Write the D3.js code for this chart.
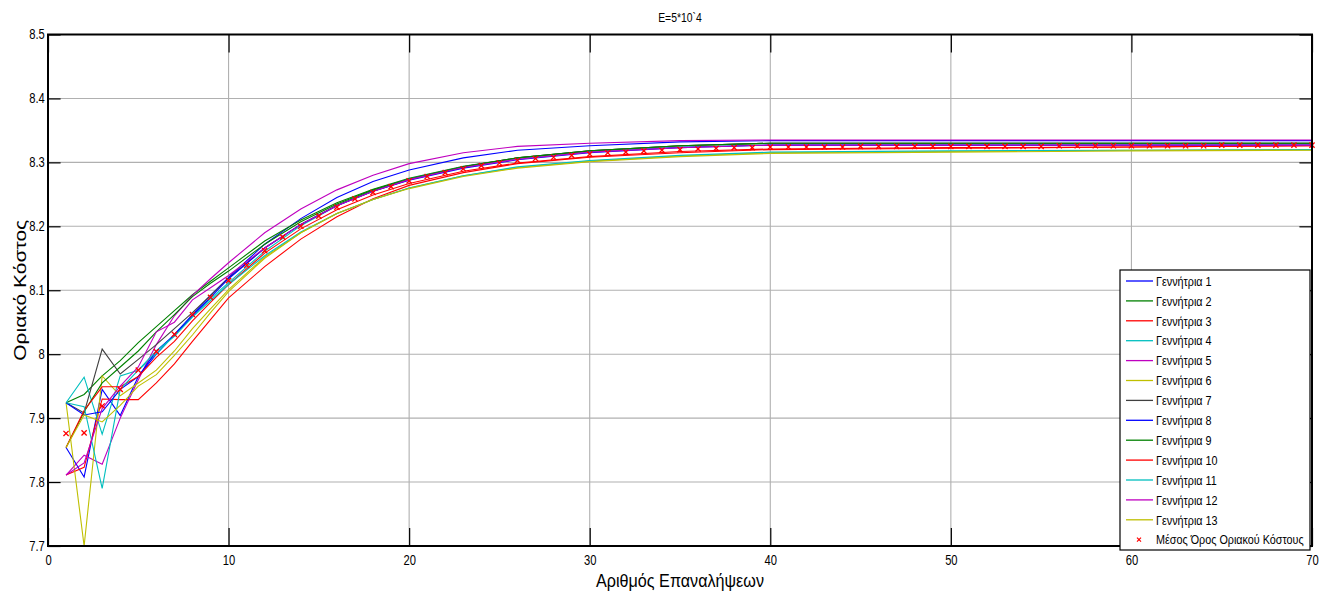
<!DOCTYPE html>
<html><head><meta charset="utf-8">
<script src="https://cdn.jsdelivr.net/npm/d3@7"></script>
<style>
body{margin:0;background:#fff}
svg{display:block}
text{font-family:'Liberation Sans',Arial,sans-serif;fill:#000}
</style>
</head><body>
<svg id="c" width="1332" height="594"></svg>
<script>
const titleText = "E=5*10`4";
const xLabel = "Αριθμός Επαναλήψεων";
const yLabel = "Οριακό Κόστος";
const xTicks = [0,10,20,30,40,50,60,70];
const yTicks = [7.7,7.8,7.9,8,8.1,8.2,8.3,8.4,8.5];

const seriesNames = ["Γεννήτρια 1","Γεννήτρια 2","Γεννήτρια 3","Γεννήτρια 4","Γεννήτρια 5","Γεννήτρια 6","Γεννήτρια 7","Γεννήτρια 8","Γεννήτρια 9","Γεννήτρια 10","Γεννήτρια 11","Γεννήτρια 12","Γεννήτρια 13"];
const meanName = "Μέσος Όρος Οριακού Κόστους";
const seriesColors = ["#0000ff","#008000","#ff0000","#00bfbf","#bf00bf","#bfbf00","#404040","#0000ff","#008000","#ff0000","#00bfbf","#bf00bf","#bfbf00"];

// iterations at which each generator curve was read
const iterKey = [1,2,3,4,5,6,7,8,9,10,12,14,16,18,20,23,26,30,35,40,50,60,70];
const gen1  = [7.854,7.808,7.945,7.904,7.965,8.000,8.031,8.062,8.092,8.120,8.172,8.212,8.245,8.270,8.288,8.307,8.319,8.326,8.332,8.334,8.334,8.334,8.334];
const gen2  = [7.924,7.937,7.966,7.990,8.018,8.043,8.068,8.093,8.114,8.135,8.177,8.210,8.237,8.258,8.275,8.294,8.307,8.318,8.326,8.330,8.330,8.330,8.330];
const gen3  = [7.811,7.823,7.930,7.929,7.929,7.955,7.985,8.020,8.054,8.088,8.137,8.180,8.215,8.243,8.264,8.284,8.298,8.308,8.315,8.320,8.322,8.324,8.326];
const gen4  = [7.924,7.964,7.875,7.966,7.975,8.000,8.030,8.060,8.087,8.112,8.161,8.201,8.232,8.256,8.274,8.293,8.306,8.317,8.324,8.327,8.327,8.327,8.327];
const gen5  = [7.811,7.842,7.828,7.900,7.960,8.015,8.060,8.092,8.118,8.143,8.190,8.227,8.257,8.280,8.298,8.315,8.325,8.330,8.334,8.335,8.335,8.335,8.335];
const gen6  = [7.924,7.700,7.966,7.935,7.955,7.975,8.005,8.040,8.071,8.101,8.152,8.190,8.220,8.242,8.260,8.279,8.292,8.302,8.310,8.315,8.317,8.319,8.320];
const gen7  = [7.924,7.908,8.008,7.969,7.992,8.015,8.040,8.065,8.092,8.119,8.166,8.203,8.233,8.255,8.273,8.293,8.307,8.318,8.326,8.330,8.330,8.330,8.330];
const gen8  = [7.924,7.905,7.910,7.945,7.965,8.005,8.030,8.060,8.089,8.118,8.166,8.203,8.232,8.255,8.272,8.291,8.304,8.315,8.323,8.327,8.327,8.327,8.327];
const gen9  = [7.854,7.910,7.955,7.980,8.005,8.035,8.062,8.090,8.111,8.130,8.172,8.207,8.235,8.257,8.274,8.293,8.307,8.318,8.326,8.330,8.330,8.330,8.330];
const gen10 = [7.854,7.912,7.949,7.949,7.965,7.995,8.020,8.052,8.081,8.109,8.158,8.196,8.226,8.249,8.267,8.286,8.299,8.309,8.317,8.321,8.323,8.324,8.326];
const gen11 = [7.924,7.918,7.790,7.945,7.975,8.005,8.028,8.058,8.084,8.109,8.154,8.191,8.220,8.242,8.260,8.279,8.293,8.303,8.311,8.316,8.318,8.319,8.320];
const gen12 = [7.811,7.830,7.915,7.950,7.980,8.035,8.050,8.085,8.104,8.123,8.166,8.203,8.232,8.255,8.273,8.292,8.305,8.316,8.323,8.327,8.327,8.327,8.327];
const gen13 = [7.854,7.905,7.894,7.920,7.950,7.968,7.998,8.030,8.065,8.098,8.150,8.190,8.220,8.242,8.259,8.278,8.291,8.301,8.309,8.314,8.316,8.318,8.319];
const generators = [gen1,gen2,gen3,gen4,gen5,gen6,gen7,gen8,gen9,gen10,gen11,gen12,gen13];

const meanIter = d3.range(1, 71);
const meanCost = [
 7.876,7.877,7.919,7.945,7.975,8.004,8.031,8.062,8.089,8.115,
 8.139,8.162,8.183,8.200,8.216,8.230,8.243,8.253,8.262,8.271,
 8.278,8.284,8.290,8.295,8.299,8.303,8.306,8.308,8.311,8.313,
 8.315,8.316,8.318,8.319,8.320,8.321,8.322,8.323,8.323,8.324,
 8.324,8.324,8.324,8.324,8.325,8.325,8.325,8.325,8.325,8.325,
 8.325,8.325,8.325,8.325,8.325,8.326,8.326,8.326,8.326,8.326,
 8.326,8.326,8.326,8.326,8.327,8.327,8.327,8.327,8.327,8.327];

const svg = d3.select("#c");
const L = 48, R = 1312, T = 34.5, B = 546;
const SX = 0.8; // horizontal squeeze of the glyphs, as in the reference picture
const x = d3.scaleLinear().domain([0,70]).range([L,R]);
const y = d3.scaleLinear().domain([7.7,8.5]).range([B,T]);

// grid
const grid = svg.append("g").attr("stroke","#b0b0b0").attr("stroke-width",1.1);
grid.selectAll("line.v").data(xTicks.slice(1,-1)).join("line")
  .attr("x1",d=>x(d)).attr("x2",d=>x(d)).attr("y1",T).attr("y2",B);
grid.selectAll("line.h").data(yTicks.slice(1,-1)).join("line")
  .attr("x1",L).attr("x2",R).attr("y1",d=>y(d)).attr("y2",d=>y(d));

// series lines
const line = d3.line().x((d,i)=>x(iterKey[i])).y(d=>y(d));
svg.append("g").selectAll("path").data(generators).join("path")
  .attr("d", d=>line(d)).attr("fill","none")
  .attr("stroke",(d,i)=>seriesColors[i]).attr("stroke-width",1.1);

// mean markers
const xMark = "M-2.6,-2.6L2.6,2.6M-2.6,2.6L2.6,-2.6";
svg.append("g").selectAll("path").data(meanCost).join("path")
  .attr("transform",(d,i)=>`translate(${x(meanIter[i])},${y(d)})`)
  .attr("d",xMark).attr("stroke","#ff0000").attr("stroke-width",1.3).attr("fill","none");

// axes with inward ticks
const fs = "14px";
const gx = svg.append("g").attr("transform",`translate(0,${B})`)
  .call(d3.axisBottom(x).tickValues(xTicks).tickSize(-18).tickPadding(9).tickFormat(d=>String(d)));
gx.selectAll("text").attr("dy","0.71em").style("font-size",fs).attr("transform",`scale(${SX},1)`);
const gxt = svg.append("g").attr("transform",`translate(0,${T})`)
  .call(d3.axisTop(x).tickValues(xTicks).tickSize(-18).tickFormat(""));
const gy = svg.append("g").attr("transform",`translate(${L},0)`)
  .call(d3.axisLeft(y).tickValues(yTicks).tickSize(-12.6).tickPadding(4).tickFormat(d=>String(d)));
gy.selectAll("text").style("font-size",fs).attr("x",-4).attr("transform",`scale(${SX},1)`);
const gyr = svg.append("g").attr("transform",`translate(${R},0)`)
  .call(d3.axisRight(y).tickValues(yTicks).tickSize(-12.6).tickFormat(""));
[gx,gxt,gy,gyr].forEach(g=>{
  g.select(".domain").remove();
  g.selectAll(".tick line").attr("stroke","#000").attr("stroke-width",1.2);
});

// frame
svg.append("rect").attr("x",L).attr("y",T).attr("width",R-L).attr("height",B-T)
  .attr("fill","none").attr("stroke","#000").attr("stroke-width",2);

// titles
svg.append("text").attr("transform",`translate(${(L+R)/2},22) scale(${SX},1)`).attr("text-anchor","middle")
  .style("font-size","13px").text(titleText);
svg.append("text").attr("transform",`translate(${(L+R)/2},587) scale(0.85,1)`).attr("text-anchor","middle")
  .style("font-size","19px").text(xLabel);
svg.append("text").attr("transform",`translate(26,${(T+B)/2}) rotate(-90) scale(1,0.8)`).attr("text-anchor","middle")
  .style("font-size","21px").text(yLabel);

// legend
const lg = svg.append("g").attr("transform","translate(1120,270)");
lg.append("rect").attr("width",190).attr("height",280).attr("fill","#fff").attr("stroke","#000").attr("stroke-width",1.2);
const items = seriesNames.map((n,i)=>({name:n,color:seriesColors[i],type:"line"}))
  .concat([{name:meanName,color:"#ff0000",type:"mark"}]);
const it = lg.selectAll("g.it").data(items).join("g")
  .attr("transform",(d,i)=>`translate(0,${11+i*19.9})`);
it.filter(d=>d.type==="line").append("line").attr("x1",6).attr("x2",33).attr("y1",0).attr("y2",0)
  .attr("stroke",d=>d.color).attr("stroke-width",1.3);
it.filter(d=>d.type==="mark").append("path").attr("transform","translate(19,0)")
  .attr("d","M-2,-2L2,2M-2,2L2,-2").attr("stroke","#ff0000").attr("stroke-width",1.2);
it.append("text").attr("transform",`translate(36,0) scale(${SX},1)`).attr("dy","0.35em")
  .style("font-size","13.5px").text(d=>d.name);
</script>
</body></html>
